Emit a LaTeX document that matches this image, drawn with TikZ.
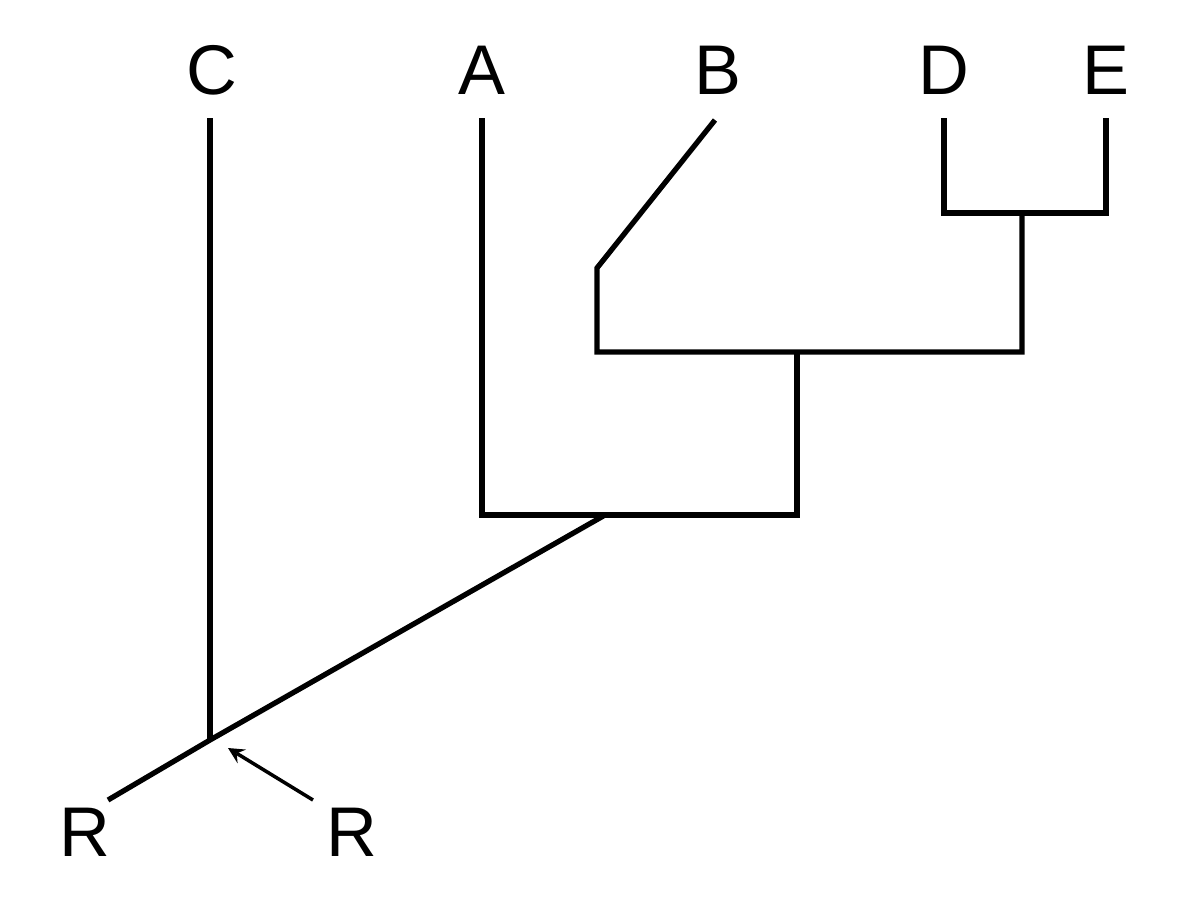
\documentclass[tikz,border=0pt]{standalone}
\usepackage{fontspec}
\setmainfont{Liberation Sans}
\begin{document}
\begin{tikzpicture}[x=0.01cm,y=-0.01cm, line width=1.5pt,
    taxon/.style={font=\fontsize{20}{24}\selectfont}]
    \useasboundingbox (0,0) rectangle (1200,896);
    % Nodi interni
    \coordinate (root) at (108,800);
    \coordinate (nC) at (210,740);
    \coordinate (nA) at (605,515);
    \coordinate (nB) at (797,352);
    \coordinate (nD) at (1022,213);

    % Etichette
    \node[taxon] (C) at (212,70) {C};
    \node[taxon] (A) at (482,70) {A};
    \node[taxon] (B) at (718,70) {B};
    \node[taxon] (D) at (944,70) {D};
    \node[taxon] (E) at (1106,70) {E};
    \node[taxon] (R1) at (85,832) {R};
    \node[taxon] (R2) at (352,832) {R};

    % Rami
    \draw (root) -- (nC) -- (nA);
    \draw (nC) -- (210,118);
    \draw (482,118) -- (482,515) -- (797,515) -- (nB);
    \draw (715,120) -- (597,268) -- (597,352) -- (1022,352) -- (nD);
    \draw (944,118) -- (944,213) -- (1106,213) -- (1106,118);

    % Freccia
    \draw[-stealth, line width=1pt] (313,800) -- (228,748);
\end{tikzpicture}
\end{document}
